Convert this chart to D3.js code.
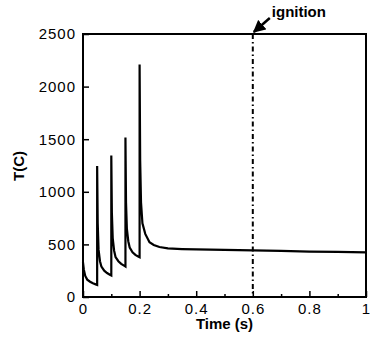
<!DOCTYPE html>
<html>
<head>
<meta charset="utf-8">
<script src="https://cdn.jsdelivr.net/npm/d3@7"></script>
<style>
  body { margin: 0; background: #fff; }
  text { font-family: "Liberation Sans", Arial, sans-serif; fill: #000; }
</style>
</head>
<body>
<div id="chart"></div>
<script>
// temperature trace: [time (s), T (C)]
const tempCurve = [
    [0, 330], [0.003, 260], [0.008, 200], [0.015, 165], [0.025, 145], [0.035, 130], [0.045, 120], [0.05, 115],
    [0.05, 1245], [0.052, 700], [0.055, 450], [0.06, 340], [0.065, 290], [0.075, 250], [0.085, 228], [0.095, 212], [0.1, 205],
    [0.1, 1345], [0.102, 800], [0.105, 560], [0.11, 440], [0.115, 380], [0.125, 340], [0.135, 315], [0.145, 298], [0.15, 290],
    [0.15, 1515], [0.152, 900], [0.155, 650], [0.16, 530], [0.165, 470], [0.175, 425], [0.185, 400], [0.195, 385], [0.2, 378],
    [0.2, 2210], [0.202, 1300], [0.205, 900], [0.21, 700], [0.22, 600], [0.235, 520], [0.25, 495], [0.27, 475], [0.3, 462],
    [0.35, 456], [0.4, 452], [0.5, 448], [0.6, 444], [0.7, 438], [0.8, 432], [0.9, 428], [1.0, 425]
];
const xTicks = [0, 0.2, 0.4, 0.6, 0.8, 1];
const xMinorTicks = [0.1, 0.3, 0.5, 0.7, 0.9];
const yTicks = [0, 500, 1000, 1500, 2000, 2500];
const ignitionTime = 0.6;
const ignitionLabel = "ignition";

const margin = {top: 34, right: 7, bottom: 46, left: 83};
const width = 373 - margin.left - margin.right;
const height = 343 - margin.top - margin.bottom;

const svg = d3.select("#chart")
    .append("svg")
    .attr("width", 373)
    .attr("height", 343);

const g = svg.append("g")
    .attr("transform", `translate(${margin.left}, ${margin.top})`);

const x = d3.scaleLinear().domain([0, 1]).range([0, width]);
const y = d3.scaleLinear().domain([0, 2500]).range([height, 0]);

// ticks point inwards
g.append("g")
    .attr("transform", `translate(0, ${height})`)
    .call(d3.axisBottom(x).tickValues(xMinorTicks).tickSize(-3).tickFormat(""))
    .call(a => a.select(".domain").remove());

g.append("g")
    .attr("class", "x-axis")
    .attr("transform", `translate(0, ${height})`)
    .call(d3.axisBottom(x).tickValues(xTicks).tickSizeInner(-6).tickSizeOuter(0).tickPadding(6)
        .tickFormat(d => d === 0 || d === 1 ? d3.format("d")(d) : d3.format(".1f")(d)))
    .call(a => a.select(".domain").remove())
    .selectAll("text")
    .style("font-size", "15px")
    .style("letter-spacing", "1px");

g.append("g")
    .attr("class", "y-axis")
    .call(d3.axisLeft(y).tickValues(yTicks).tickFormat(d3.format("d"))
        .tickSizeInner(-6).tickSizeOuter(0).tickPadding(7))
    .call(a => a.select(".domain").remove())
    .selectAll("text")
    .style("font-size", "15px")
    .style("letter-spacing", "1px");

g.selectAll(".tick line").attr("stroke", "#000").attr("stroke-width", 1.5);

// frame
g.append("rect")
    .attr("width", width)
    .attr("height", height)
    .attr("fill", "none")
    .attr("stroke", "#000")
    .attr("stroke-width", 2);

// temperature line
const line = d3.line()
    .x(d => x(d[0]))
    .y(d => y(d[1]));

g.append("path")
    .datum(tempCurve)
    .attr("d", line)
    .style("fill", "none")
    .style("stroke", "#000")
    .style("stroke-width", 2.2);

// ignition marker
g.append("line")
    .attr("x1", x(ignitionTime)).attr("x2", x(ignitionTime))
    .attr("y1", 0).attr("y2", height)
    .attr("stroke", "#000")
    .attr("stroke-width", 2)
    .attr("stroke-dasharray", "5,3,1.5,3");

svg.append("defs").append("marker")
    .attr("id", "arrow")
    .attr("viewBox", "0 0 10 10")
    .attr("refX", 9).attr("refY", 5)
    .attr("markerWidth", 5).attr("markerHeight", 5)
    .attr("orient", "auto")
    .append("path")
    .attr("d", "M0,0L10,5L0,10z")
    .attr("fill", "#000");

g.append("line")
    .attr("x1", x(ignitionTime) + 17).attr("y1", -16)
    .attr("x2", x(ignitionTime) + 1).attr("y2", -2)
    .attr("stroke", "#000")
    .attr("stroke-width", 2.5)
    .attr("marker-end", "url(#arrow)");

g.append("text")
    .attr("x", x(ignitionTime) + 19)
    .attr("y", -17)
    .style("font-size", "15px")
    .style("font-weight", "bold")
    .text(ignitionLabel);

// axis titles
svg.append("text")
    .attr("x", margin.left + width / 2)
    .attr("y", 329)
    .attr("text-anchor", "middle")
    .style("font-size", "15px")
    .style("font-weight", "bold")
    .text("Time (s)");

svg.append("text")
    .attr("transform", "translate(24, 166) rotate(-90)")
    .attr("text-anchor", "middle")
    .style("font-size", "15px")
    .style("font-weight", "bold")
    .text("T(C)");
</script>
</body>
</html>
